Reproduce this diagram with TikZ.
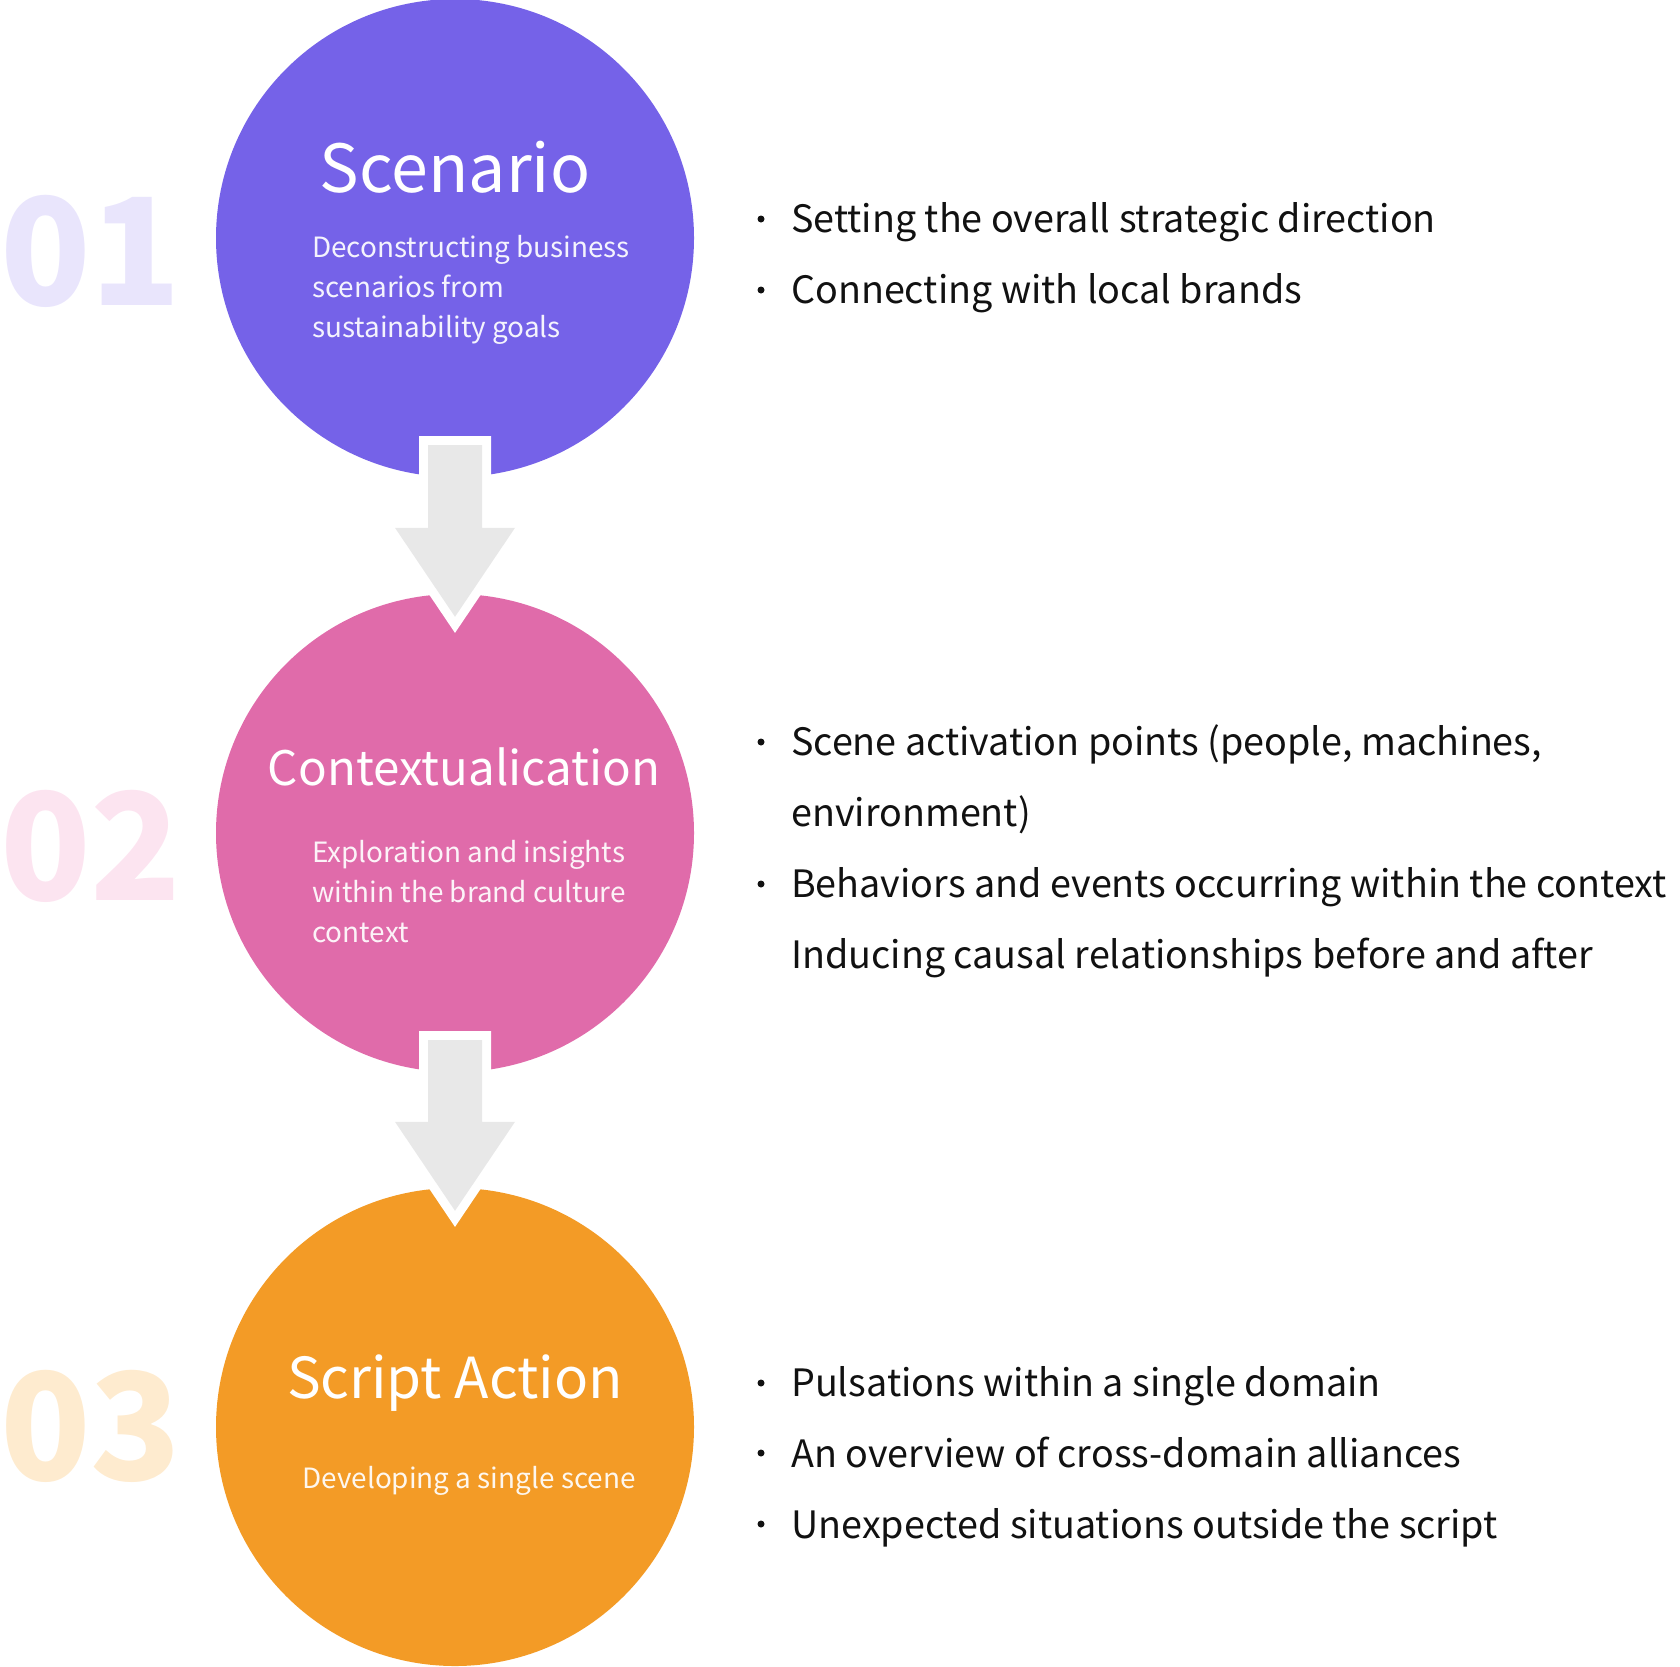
\documentclass[tikz,border=0pt]{standalone}
\usepackage{fontspec}
\setmainfont{Noto Sans CJK SC}
\usetikzlibrary{calc}
\definecolor{cA}{HTML}{7562E8}
\definecolor{cB}{HTML}{E06BAA}
\definecolor{cC}{HTML}{F39B26}
\definecolor{nA}{HTML}{E9E5FC}
\definecolor{nB}{HTML}{FCE4F0}
\definecolor{nC}{HTML}{FEEBCF}
\definecolor{arrowgray}{HTML}{E8E8E8}
\definecolor{bodytext}{HTML}{111111}
\tikzset{
 stage/.style={circle, minimum size=478pt, inner sep=0pt, draw=none},
 bignum/.style={anchor=base west, inner sep=0pt, font=\fontsize{149}{149}\selectfont\bfseries},
 stagetitle/.style={anchor=base, inner sep=0pt, text=white},
 stagesub/.style={anchor=base west, inner sep=0pt, font=\fontsize{27.9}{40}\selectfont},
 bullettext/.style={anchor=base west, inner sep=0pt, text=bodytext, font=\fontsize{37.7}{71}\selectfont},
 bulletdot/.style={circle, fill=bodytext, minimum size=7pt, inner sep=0pt},
 flowarrow/.style={fill=arrowgray, preaction={draw=white, line width=18pt, miter limit=10}},
}
\newcommand\flowarrowpath[2]{%
 \path[flowarrow] ($(#1.south)+(-27,-32)$) -- ($(#1.south)+(27,-32)$) -- ($(#2.north)+(27,-66)$) -- ($(#2.north)+(60,-66)$) -- ($(#2.north)+(0,23)$) -- ($(#2.north)+(-60,-66)$) -- ($(#2.north)+(-27,-66)$) -- cycle;}
\begin{document}
\begin{tikzpicture}[x=1pt,y=-1pt]
\useasboundingbox (0,0) rectangle (1680,1666);
% big numbers
\node[bignum, text=nA] (n1) at (0,305) {01};
\node[bignum, text=nB] (n2) at (0,900) {02};
\node[bignum, text=nC] (n3) at (0,1480) {03};
% circles
\node[stage, fill=cA] (c1) at (455,238) {};
\node[stage, fill=cB] (c2) at (455,833) {};
\node[stage, fill=cC] (c3) at (455,1427) {};
% arrows
\flowarrowpath{c1}{c2}
\flowarrowpath{c2}{c3}
% titles
\node[stagetitle, font=\fontsize{66.3}{66}\selectfont] (t1) at (455,192) {Scenario};
\node[stagetitle, font=\fontsize{47.5}{48}\selectfont] (t2) at (464,785) {Contextualication};
\node[stagetitle, font=\fontsize{56.5}{56}\selectfont] (t3) at (455,1398) {Script Action};
% subtitles
\node[stagesub, text=white!92!cA] (s1) at (312,257) {\begin{tabular}[t]{@{}l@{}}Deconstructing business\\scenarios from\\sustainability goals\end{tabular}};
\node[stagesub, text=white!92!cB] (s2) at (312,862) {\begin{tabular}[t]{@{}l@{}}Exploration and insights\\within the brand culture\\context\end{tabular}};
\node[stagesub, anchor=base, text=white!92!cC] (s3) at (469,1488) {Developing a single scene};
% bullet lists
\node[bullettext] (b1) at (791,232) {\begin{tabular}[t]{@{}l@{}}Setting the overall strategic direction\\Connecting with local brands\end{tabular}};
\node[bulletdot] (d11) at (761,219) {};
\node[bulletdot] (d12) at (761,290) {};
\node[bullettext] (b2) at (791,755) {\begin{tabular}[t]{@{}l@{}}Scene activation points (people, machines,\\environment)\\Behaviors and events occurring within the context\\Inducing causal relationships before and after\end{tabular}};
\node[bulletdot] (d21) at (761,742) {};
\node[bulletdot] (d22) at (761,884) {};
\node[bullettext] (b3) at (791,1396) {\begin{tabular}[t]{@{}l@{}}Pulsations within a single domain\\An overview of cross-domain alliances\\Unexpected situations outside the script\end{tabular}};
\node[bulletdot] (d31) at (761,1383) {};
\node[bulletdot] (d32) at (761,1453) {};
\node[bulletdot] (d33) at (761,1524) {};
\end{tikzpicture}
\end{document}
